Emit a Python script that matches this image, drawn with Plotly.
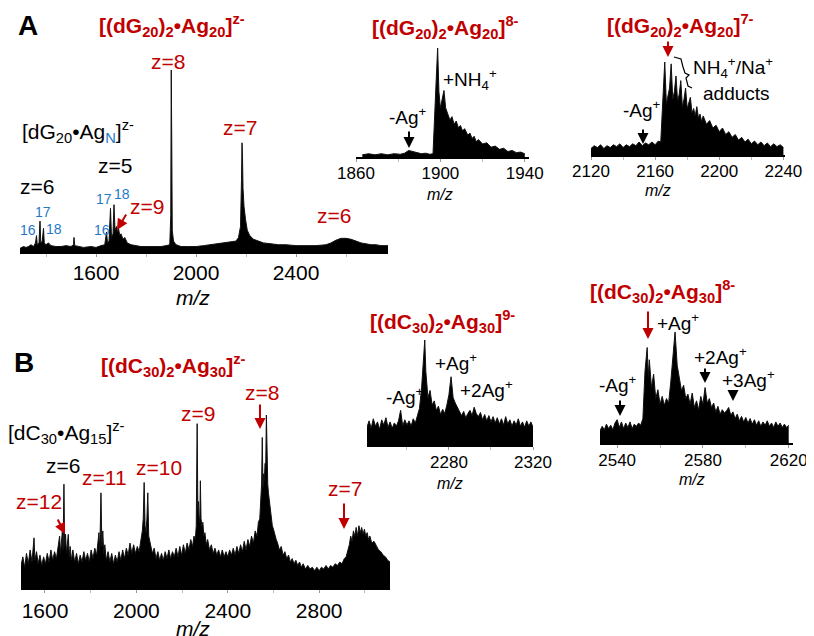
import plotly.graph_objects as go

W, H = 814, 636
OFF = 8  # page body margin of the html page
RED = "#C00000"
BLUE = "#1F78C8"
FONT = "Liberation Sans, Arial, sans-serif"

# ---------------- data (m/z, relative intensity) ----------------
a_main_mz = [1296, 1310, 1320, 1330, 1340, 1350, 1358, 1362, 1365, 1372, 1376, 1379, 1385, 1390, 1393,
             1400, 1410, 1420, 1440, 1460, 1480, 1500, 1510, 1512, 1515, 1530, 1550, 1580, 1600, 1620,
             1635, 1642, 1646, 1652, 1658, 1662, 1668, 1672, 1676, 1682, 1686, 1690, 1695, 1700, 1708,
             1715, 1725, 1740, 1760, 1780, 1800, 1830, 1860, 1880, 1895, 1899, 1901, 1903, 1905, 1910,
             1920, 1940, 1970, 2000, 2030, 2060, 2080, 2100, 2120, 2140, 2160, 2170, 2178, 2182, 2184,
             2186, 2188, 2192, 2198, 2205, 2215, 2230, 2250, 2270, 2300, 2330, 2360, 2400, 2440, 2480,
             2520, 2540, 2560, 2580, 2600, 2620, 2640, 2660, 2680, 2700, 2720, 2740, 2768]
a_main_int = [2, 3, 2.5, 3, 4, 3, 5, 9, 4, 5, 17, 5, 6, 13, 5,
              4, 5, 3.5, 3, 3, 3.5, 3, 4, 8, 3.5, 3, 2.5, 3, 2.5, 3.5,
              4, 11, 5, 6, 24, 8, 10, 26, 12, 14, 11, 13, 9, 10, 7,
              8, 5, 4, 3.5, 3, 3, 3, 3, 3.5, 4, 20, 100, 60, 12, 6,
              4, 3, 3, 3, 3.5, 4, 4.5, 5, 5, 5.5, 6, 8, 14, 40, 60,
              52, 35, 25, 18, 12, 9, 7, 6, 5, 4.5, 4, 4, 3.5, 3.5, 3.5,
              4, 5, 6.5, 7.5, 7.5, 7, 6, 5, 4.5, 4, 4, 3.5, 3.5]

a_in1_mz = [1863, 1866, 1869, 1872, 1875, 1878, 1881, 1883, 1885, 1887, 1889, 1891, 1893, 1895,
            1896.5, 1897, 1898, 1898.7, 1899.3, 1900, 1901, 1901.7, 1902.5, 1903.5, 1904.5, 1905.5,
            1906.5, 1907.5, 1908.5, 1909.5, 1910.5, 1911.5, 1913, 1914, 1915, 1916, 1917, 1918, 1920,
            1922, 1924, 1926, 1928, 1930, 1932, 1934, 1936, 1938, 1940]
a_in1_int = [2, 3, 2, 3, 2, 3, 2.5, 3.5, 6, 5, 3.5, 3, 3.5, 2.5,
             3, 30, 70, 100, 60, 45, 55, 61, 45, 40, 34, 37,
             30, 33, 27, 29, 24, 26, 20, 22, 17, 19, 14, 16, 12,
             13, 9, 10, 7, 8, 5, 6, 4, 4.5, 3]

a_in2_mz = [2120, 2122, 2124, 2126, 2128, 2130, 2132, 2134, 2136, 2138, 2140, 2142, 2144, 2146, 2148,
            2150, 2152, 2154, 2156, 2158, 2160, 2162, 2163.5, 2164.5, 2165.3, 2166, 2167, 2168, 2169,
            2170, 2171, 2172, 2173, 2174, 2175, 2176, 2177, 2178, 2179, 2180, 2181, 2182, 2183, 2184,
            2185, 2186, 2187, 2188, 2189, 2190, 2192, 2194, 2196, 2198, 2200, 2202, 2204, 2206, 2208,
            2210, 2212, 2214, 2216, 2218, 2220, 2222, 2224, 2226, 2228, 2230, 2232, 2234, 2236, 2238, 2240]
a_in2_int = [7, 10, 8, 11, 7, 10, 8, 11, 9, 12, 8, 11, 9, 12, 10,
             14, 10, 13, 11, 14, 11, 15, 14, 55, 70, 100, 55, 62, 72,
             98, 60, 68, 85, 58, 65, 80, 52, 60, 72, 50, 55, 62, 45, 50,
             42, 52, 40, 44, 36, 42, 33, 37, 29, 32, 25, 29, 22, 25, 19,
             22, 16, 19, 14, 17, 12, 15, 11, 14, 10, 13, 9, 12, 9, 11, 8]

b_main_mz = [1495, 1503, 1511, 1519, 1527, 1535, 1543, 1548, 1552, 1556, 1563, 1570, 1578, 1586, 1594,
             1602, 1610, 1618, 1626, 1634, 1642, 1650, 1658, 1664, 1668, 1672, 1676, 1679, 1683, 1686,
             1690, 1694, 1698, 1702, 1706, 1710, 1716, 1722, 1730, 1738, 1746, 1754, 1762, 1770, 1778,
             1786, 1794, 1802, 1810, 1818, 1826, 1832, 1836, 1840, 1845, 1849, 1853, 1857, 1862, 1868,
             1876, 1884, 1892, 1900, 1908, 1916, 1924, 1932, 1940, 1948, 1956, 1964, 1972, 1980, 1988,
             1996, 2004, 2012, 2020, 2026, 2030, 2034, 2038, 2042, 2046, 2050, 2054, 2058, 2064, 2070,
             2078, 2086, 2094, 2102, 2110, 2118, 2126, 2134, 2142, 2150, 2158, 2166, 2174, 2182, 2190,
             2198, 2206, 2214, 2222, 2230, 2238, 2246, 2252, 2258, 2262, 2266, 2269, 2272, 2275, 2278,
             2280, 2283, 2287, 2291, 2295, 2300, 2306, 2312, 2320, 2328, 2336, 2344, 2352, 2360, 2368,
             2376, 2384, 2392, 2400, 2408, 2416, 2424, 2432, 2440, 2448, 2456, 2464, 2472, 2480, 2488,
             2496, 2504, 2512, 2520, 2528, 2534, 2540, 2545, 2548, 2551, 2554, 2557, 2560, 2563, 2566,
             2569, 2572, 2575, 2578, 2582, 2586, 2590, 2595, 2600, 2606, 2612, 2618, 2626, 2634, 2642,
             2650, 2658, 2666, 2674, 2682, 2690, 2698, 2706, 2714, 2722, 2730, 2740, 2750, 2760, 2770,
             2780, 2790, 2800, 2810, 2820, 2830, 2840, 2850, 2860, 2870, 2880, 2890, 2900, 2910, 2918,
             2926, 2932, 2938, 2944, 2950, 2956, 2962, 2968, 2974, 2980, 2986, 2992, 2998, 3004, 3010,
             3016, 3022, 3030, 3040, 3050, 3060, 3070, 3080, 3090, 3100, 3110]
b_main_int = [13, 18, 12, 20, 14, 22, 15, 24, 29, 16, 21, 14, 19, 13, 18,
              14, 20, 15, 22, 16, 21, 17, 25, 30, 20, 27, 33, 22, 60, 24,
              31, 20, 27, 31, 18, 24, 16, 22, 15, 20, 14, 19, 15, 21, 16,
              20, 15, 22, 17, 23, 19, 28, 32, 22, 55, 24, 33, 20, 25, 16,
              21, 15, 20, 14, 19, 15, 21, 16, 22, 17, 23, 19, 26, 20, 25,
              20, 24, 21, 28, 33, 40, 61, 36, 32, 40, 55, 30, 27, 24, 20,
              23, 17, 21, 16, 20, 16, 21, 17, 22, 17, 21, 18, 23, 18, 24,
              19, 25, 20, 26, 22, 28, 24, 30, 28, 36, 95, 45, 50, 38, 42,
              62, 40, 36, 38, 30, 32, 25, 28, 22, 25, 20, 23, 19, 22, 18,
              22, 18, 21, 18, 22, 19, 23, 19, 24, 20, 25, 21, 27, 22, 28,
              24, 30, 26, 33, 30, 38, 40, 50, 60, 87, 58, 66, 62, 72, 70,
              100, 65, 60, 55, 50, 45, 42, 36, 34, 30, 28, 26, 22, 24, 19,
              21, 17, 19, 15, 17, 14, 16, 13, 15, 12, 14, 11, 13, 11, 12,
              10, 12, 10, 12, 11, 13, 11, 13, 12, 14, 13, 15, 14, 17, 18,
              22, 25, 30, 27, 33, 30, 35, 30, 36, 32, 35, 31, 34, 30, 32,
              28, 30, 26, 27, 24, 22, 21, 19, 18, 16, 15]

b_in1_mz = [2241, 2242, 2243, 2244, 2245, 2246, 2247, 2248, 2249, 2250, 2251, 2252, 2253, 2254, 2255,
            2256, 2257, 2258, 2259, 2260, 2261, 2262, 2263, 2264, 2265, 2266, 2267, 2268, 2268.5, 2269,
            2270, 2271, 2272, 2273, 2274, 2275, 2276, 2277, 2278, 2279, 2280, 2281, 2282, 2283, 2284,
            2285, 2286, 2287, 2288, 2289, 2290, 2291, 2292, 2293, 2294, 2295, 2296, 2297, 2298, 2299,
            2300, 2301, 2302, 2303, 2304, 2305, 2306, 2307, 2308, 2309, 2310, 2311, 2312, 2313, 2314,
            2315, 2316, 2317, 2318, 2319, 2320]
b_in1_int = [17, 23, 16, 25, 18, 22, 15, 24, 19, 26, 17, 22, 16, 21, 18,
             23, 33, 18, 24, 19, 23, 18, 25, 21, 28, 35, 55, 80, 100, 70,
             45, 52, 38, 42, 33, 37, 29, 34, 30, 38, 48, 65, 45, 40, 36,
             33, 28, 32, 26, 30, 33, 28, 36, 30, 27, 31, 24, 29, 23, 28,
             22, 27, 21, 26, 20, 25, 19, 27, 20, 24, 18, 23, 19, 25, 18,
             22, 17, 23, 18, 22, 17]

b_in2_mz = [2532, 2533, 2534, 2535, 2536, 2537, 2538, 2539, 2540, 2541, 2542, 2543, 2544, 2545, 2546,
            2547, 2548, 2549, 2550, 2551, 2552, 2553, 2554, 2554.5, 2555, 2556, 2557, 2558, 2559, 2560,
            2561, 2562, 2563, 2564, 2565, 2566, 2567, 2568, 2569, 2570, 2571, 2572, 2573, 2574, 2575,
            2576, 2577, 2578, 2579, 2580, 2581, 2582, 2583, 2584, 2585, 2586, 2587, 2588, 2589, 2590,
            2591, 2592, 2593, 2594, 2595, 2596, 2597, 2598, 2599, 2600, 2601, 2602, 2603, 2604, 2605,
            2606, 2607, 2608, 2609, 2610, 2611, 2612, 2613, 2614, 2615, 2616, 2617, 2618, 2619, 2620]
b_in2_int = [11, 15, 12, 17, 13, 16, 12, 18, 21, 14, 19, 13, 18, 14, 19,
             13, 17, 15, 18, 16, 22, 65, 86, 60, 75, 50, 62, 40, 48, 35,
             42, 34, 40, 36, 55, 80, 100, 70, 58, 47, 52, 40, 44, 35, 45,
             32, 38, 30, 42, 35, 50, 36, 40, 32, 36, 28, 33, 26, 30, 27,
             29, 32, 25, 28, 22, 26, 20, 24, 19, 23, 18, 22, 17, 21, 16,
             20, 15, 19, 16, 20, 15, 18, 14, 19, 15, 18, 14, 17, 14, 16]

a_main_ticks = [1600, 2000, 2400]
a_main_minor = [1400, 1800, 2200, 2600]
a_in1_ticks = [1860, 1900, 1940]
a_in2_ticks = [2120, 2160, 2200, 2240]
b_main_ticks = [1600, 2000, 2400, 2800]
b_main_minor = [1800, 2200, 2600, 3000]
b_in1_ticks = [2240, 2280, 2320]
b_in2_ticks = [2540, 2580, 2620]

# ---------------- layout helpers (page pixels -> paper) ----------------
def px(x):
    return (x - OFF) / W

def py(y):
    return 1 - (y - OFF) / H

panels = [
    # data x, data y, px left, px right, px baseline, px top, x range, ticks, minor, tick font, standoff
    (a_main_mz, a_main_int, 20, 388, 252, 70, [1296, 2768], a_main_ticks, a_main_minor, 21, -2),
    (a_in1_mz, a_in1_int, 356, 529, 157, 48, [1860, 1942], a_in1_ticks, [1880, 1920], 17, -3),
    (a_in2_mz, a_in2_int, 591, 785, 155, 62, [2120, 2241], a_in2_ticks, [2140, 2180, 2220], 17, -3),
    (b_main_mz, b_main_int, 21, 390, 588, 415, [1495, 3110], b_main_ticks, b_main_minor, 21, 0),
    (b_in1_mz, b_in1_int, 367, 533, 445, 340, [2241, 2320], b_in1_ticks, [2260, 2300], 17, -2),
    (b_in2_mz, b_in2_int, 600, 793, 443, 332, [2532, 2622], b_in2_ticks, [2560, 2600], 17, -2),
]

fig = go.Figure()
layout = dict(template="none", width=W, height=H, margin=dict(l=0, r=0, t=0, b=0, pad=0),
              autosize=False,
              plot_bgcolor="white", paper_bgcolor="white", showlegend=False,
              font=dict(family=FONT, color="black"))

for i, (mx, my, l, r, base, top, xr, tv, mv, fs, so) in enumerate(panels, start=1):
    sfx = "" if i == 1 else str(i)
    fig.add_trace(go.Scatter(x=mx, y=my, mode="lines", fill="tozeroy",
                             line=dict(color="#111111", width=1), fillcolor="black",
                             xaxis="x" + sfx, yaxis="y" + sfx, hoverinfo="skip"))
    layout["xaxis" + sfx] = dict(domain=[px(l), px(r)], range=xr, anchor="y" + sfx,
                                  automargin=False,
                                  showline=True, linecolor="black", linewidth=2,
                                  ticks="outside", ticklen=3, tickcolor="#999999", tickwidth=1,
                                  tickvals=tv, ticktext=[str(v) for v in tv],
                                  tickfont=dict(size=fs, family=FONT, color="black"),
                                  ticklabelstandoff=so,
                                  minor=dict(tickvals=mv, ticks="outside", ticklen=3, tickcolor="#bbbbbb"),
                                  showgrid=False, zeroline=False, fixedrange=True)
    layout["yaxis" + sfx] = dict(domain=[py(base), py(top)], range=[0, 100], anchor="x" + sfx,
                                  automargin=False, visible=False, fixedrange=True)

fig.update_layout(**layout)

# ---------------- annotations ----------------
def txt(text, x, y, size, color="black", bold=False, italic=False):
    t = text
    if bold:
        t = "<b>" + t + "</b>"
    if italic:
        t = "<i>" + t + "</i>"
    fig.add_annotation(text=t, x=px(x), y=py(y), xref="paper", yref="paper",
                       showarrow=False, xanchor="center", yanchor="middle",
                       font=dict(size=size, color=color, family=FONT))

def arrow(x, y0, y1, color="black", x1=None):
    # tail at (x, y0), head at (x1 or x, y1) in pixels
    xe = x if x1 is None else x1
    fig.add_annotation(x=px(xe), y=py(y1), xref="paper", yref="paper",
                       ax=x - xe, ay=y0 - y1, axref="pixel", ayref="pixel",
                       text="", showarrow=True, arrowhead=2, arrowsize=1.1,
                       arrowwidth=2, arrowcolor=color)

T_AG20 = "[(dG<sub>20</sub>)<sub>2</sub>•Ag<sub>20</sub>]"
T_AG30 = "[(dC<sub>30</sub>)<sub>2</sub>•Ag<sub>30</sub>]"

# Panel A
txt("A", 28, 25, 28, bold=True)
txt(T_AG20 + "<sup>z-</sup>", 172, 25, 21, RED, bold=True)
txt("z=8", 168, 61, 21, RED)
txt("z=7", 240, 127, 21, RED)
txt("z=6", 334, 216, 21, RED)
txt("z=9", 147, 206, 21, RED)
arrow(127, 213, 230, RED, x1=117)
txt("[dG<sub>20</sub>•Ag<sub><span style='color:%s'>N</span></sub>]<sup>z-</sup>" % BLUE, 78, 131, 21)
txt("z=5", 115, 165, 21)
txt("z=6", 37, 186, 21)
for s, x, y in [("16", 28, 230), ("17", 43, 212), ("18", 54, 229),
                ("17", 104, 199), ("18", 122, 194), ("16", 102, 230)]:
    txt(s, x, y, 14, BLUE)
txt("m/z", 193, 297, 21, italic=True)

txt(T_AG20 + "<sup>8-</sup>", 446, 28, 21, RED, bold=True)
txt("+NH<sub>4</sub><sup>+</sup>", 470, 79, 19)
txt("-Ag<sup>+</sup>", 408, 116, 19)
arrow(409, 130, 148)
txt("m/z", 440, 194, 16, italic=True)

txt(T_AG20 + "<sup>7-</sup>", 680, 26, 21, RED, bold=True)
arrow(668, 40, 57, RED)
txt("NH<sub>4</sub><sup>+</sup>/Na<sup>+</sup>", 733, 68, 19)
txt("adducts", 736, 93, 19)
txt("-Ag<sup>+</sup>", 642, 109, 19)
arrow(643, 128, 144)
txt("m/z", 658, 190, 16, italic=True)

brace = [(674, 57), (681, 59), (683, 67), (685, 73), (689, 75), (686, 78), (688, 86), (692, 88)]
path = "M " + " L ".join("%.5f,%.5f" % (px(x), py(y)) for x, y in brace)
fig.add_shape(type="path", path=path, xref="paper", yref="paper",
              line=dict(color="black", width=1.2))

# Panel B
txt("B", 24, 362, 28, bold=True)
txt(T_AG30 + "<sup>z-</sup>", 173, 365, 21, RED, bold=True)
txt("[dC<sub>30</sub>•Ag<sub>15</sub>]<sup>z-</sup>", 66, 432, 21)
txt("z=6", 63, 465, 21)
txt("z=12", 39, 501, 21, RED)
arrow(57, 518, 534, RED, x1=65)
txt("z=11", 104, 478, 21, RED)
txt("z=10", 159, 468, 21, RED)
txt("z=9", 198, 413, 21, RED)
txt("z=8", 262, 392, 21, RED)
arrow(260, 403, 429, RED)
txt("z=7", 345, 488, 21, RED)
arrow(344, 502, 529, RED)
txt("m/z", 193, 628, 21, italic=True)

txt(T_AG30 + "<sup>9-</sup>", 442, 321, 21, RED, bold=True)
txt("+Ag<sup>+</sup>", 456, 362, 19)
txt("-Ag<sup>+</sup>", 405, 396, 19)
txt("+2Ag<sup>+</sup>", 487, 389, 19)
txt("m/z", 450, 483, 16, italic=True)

txt(T_AG30 + "<sup>8-</sup>", 662, 291, 21, RED, bold=True)
arrow(648, 310, 339, RED)
txt("+Ag<sup>+</sup>", 678, 322, 19)
txt("+2Ag<sup>+</sup>", 720, 356, 19)
arrow(705, 367, 383)
txt("+3Ag<sup>+</sup>", 748, 379, 19)
arrow(733, 390, 401)
txt("-Ag<sup>+</sup>", 618, 384, 19)
arrow(620, 399, 416)
txt("m/z", 692, 480, 16, italic=True)

fig.write_html("out.html")
